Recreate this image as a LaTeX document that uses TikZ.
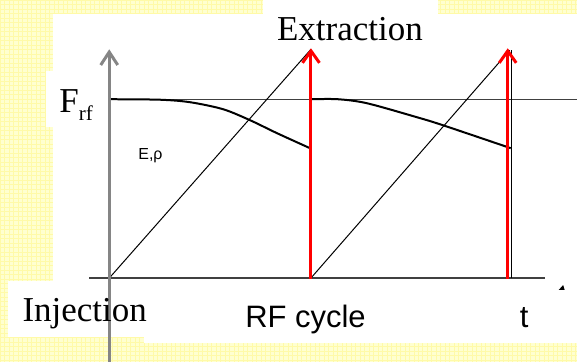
\documentclass[tikz,border=0pt]{standalone}
\usepackage{fontspec}
\setmainfont{Liberation Serif}
\newfontfamily\arialfont{Liberation Sans}
\usetikzlibrary{arrows.meta}
\definecolor{bgyellow}{HTML}{FFFFD0}
\definecolor{gridyellow}{HTML}{FFFAA8}
\definecolor{axisgray}{HTML}{858585}
\definecolor{linegray}{HTML}{404040}
\tikzset{
  whitebox/.style={fill=white, draw=none},
  thinline/.style={draw=linegray, line width=1.1pt},
  sawline/.style={draw=black, line width=1pt},
  energycurve/.style={draw=black, line width=2pt},
  extractarrow/.style={draw=red, line width=3pt, -{Straight Barb[length=12pt,width=17pt,line width=3pt]}},
  timeaxis/.style={draw=axisgray, line width=3pt, -{Straight Barb[length=13pt,width=17pt,line width=3pt]}},
  serifbig/.style={font=\fontsize{35}{35}\selectfont, inner sep=0pt},
  sansbig/.style={font=\arialfont\fontsize{31}{31}\selectfont, inner sep=0pt},
}
\begin{document}
\begin{tikzpicture}[x=1pt, y=-1pt]
% background
\fill[bgyellow] (0,0) rectangle (577,362);
\draw[gridyellow, line width=0.7pt, step=4.5pt] (0,0) grid (577,362);
\useasboundingbox (0,0) rectangle (577,362);
% white panels
\fill[whitebox] (53,14) rectangle (577,337);
\fill[whitebox] (144,290) rectangle (577,343);
\fill[whitebox] (8,281) rectangle (145,337);
\fill[whitebox] (46,71) rectangle (100,127);
\fill[whitebox] (263,0) rectangle (438,14);

% coordinates
\coordinate (axbot) at (109,362);
\coordinate (axtop) at (109,49);
\coordinate (frfL) at (110,99);
\coordinate (frfR) at (577,99);
\coordinate (tL) at (89,278);
\coordinate (tR) at (545,278);
\coordinate (s1a) at (110,277);
\coordinate (s1b) at (311,49);
\coordinate (s2a) at (311,278);
\coordinate (s2b) at (510,50);
\coordinate (r1a) at (311,279);
\coordinate (r1b) at (311,48);
\coordinate (r2a) at (508,279);
\coordinate (r2b) at (508,48);
\coordinate (v2a) at (512,278);
\coordinate (v2b) at (512,50);

% reference lines
\draw[thinline] (frfL) -- (frfR);
\draw[thinline] (tL) -- (tR);

% sawtooth ramps
\draw[sawline] (s1a) -- (s1b);
\draw[sawline] (s2a) -- (s2b);
\draw[sawline] (v2a) -- (v2b);

% energy curves
\draw[energycurve] plot[smooth, tension=0.5] coordinates {(110,99) (160,99.5) (190,102) (223,109) (250,120) (277,133) (310,148)};
\draw[energycurve] plot[smooth, tension=0.5] coordinates {(312,99) (338,99) (367,103) (417,117) (443,125) (511,148)};

% extraction arrows
\draw[extractarrow] (r1a) -- (r1b);
\draw[extractarrow] (r2a) -- (r2b);

% vertical axis
\draw[timeaxis] (axbot) -- (axtop);

% small mark
\fill[black] (559,290) -- (565,290) -- (563.5,285) -- cycle;

% labels
\node[serifbig, anchor=base] (extr) at (350,40) {Extraction};
\node[serifbig, anchor=base west] (frf) at (59,112) {F\raisebox{-8pt}{\fontsize{21}{21}\selectfont rf}};
\node[serifbig, anchor=base west] (inj) at (22,322) {Injection};
\node[sansbig, anchor=base west] (rfc) at (245,328) {RF cycle};
\node[sansbig, anchor=base west] (tlab) at (520,328) {t};
\node[font=\arialfont\fontsize{16}{16}\selectfont, inner sep=0pt, anchor=base west] (erho) at (138,159) {E,ρ};
\end{tikzpicture}
\end{document}
